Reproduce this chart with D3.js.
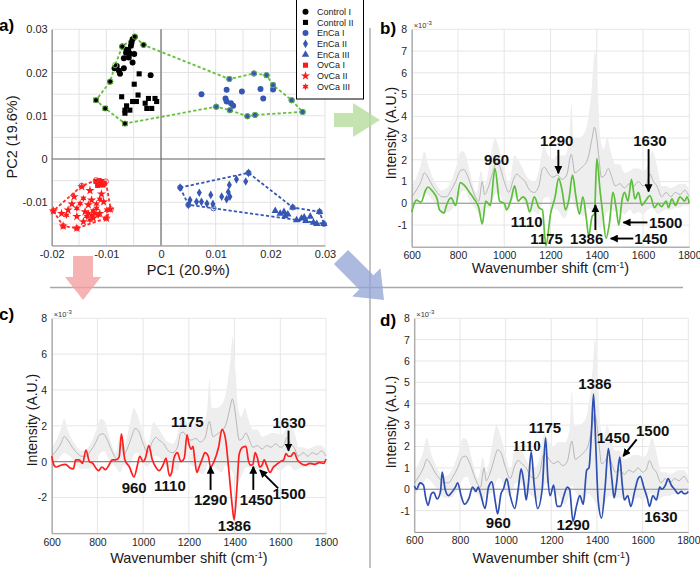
<!DOCTYPE html>
<html><head><meta charset="utf-8">
<script src="https://cdn.jsdelivr.net/npm/d3@7"></script>
<style>body{margin:0;background:#fff}svg{display:block;font-family:"Liberation Sans",Arial,sans-serif}</style>
</head><body><svg id="c" width="700" height="568"></svg>
<script>
// ---------- PCA scores (panel a) ----------
const controlI = [[-0.0048,0.0283],[-0.0032,0.0264],[-0.0052,0.0277],[-0.0054,0.0269],[-0.0071,0.026],[-0.006,0.0252],[-0.0064,0.0246],[-0.0057,0.0244],[-0.0049,0.0243],[-0.0068,0.0233],[-0.0059,0.0235],[-0.0052,0.0223],[-0.0081,0.0215],[-0.0077,0.0204],[-0.0068,0.021],[-0.0085,0.021],[-0.0075,0.0197],[-0.0093,0.0179],[-0.0019,0.0194],[-0.0063,0.0253],[-0.0055,0.0262]];
const controlII = [[-0.004,0.0197],[-0.0049,0.0173],[-0.0042,0.0148],[-0.0072,0.0144],[-0.0023,0.014],[-0.0011,0.014],[-0.0008,0.0133],[-0.0029,0.0129],[-0.0045,0.0133],[-0.0052,0.0133],[-0.0063,0.0123],[-0.0066,0.0113],[-0.0057,0.0113],[-0.0026,0.0117],[-0.0017,0.0117],[-0.0066,0.0106],[-0.0119,0.0136],[-0.0102,0.0117],[-0.0066,0.0082]];
const encaI = [[0.0074,0.015],[0.0125,0.0185],[0.012,0.016],[0.0148,0.0156],[0.017,0.0198],[0.0193,0.0194],[0.0182,0.0162],[0.0205,0.0171],[0.0205,0.0161],[0.0187,0.014],[0.0239,0.0136],[0.0259,0.0109],[0.0172,0.0102],[0.0158,0.0099],[0.0126,0.0113],[0.0101,0.0121],[0.0118,0.014],[0.012,0.0133],[0.0128,0.0129],[0.0132,0.0123]];
const encaII = [[0.0035,-0.0066],[0.0053,-0.0095],[0.005,-0.0106],[0.007,-0.0078],[0.0065,-0.0099],[0.0074,-0.0099],[0.0084,-0.0103],[0.0095,-0.0104],[0.0091,-0.0083],[0.0111,-0.0087],[0.012,-0.0093],[0.0126,-0.0087],[0.0123,-0.0076],[0.0125,-0.006],[0.0138,-0.0047],[0.0155,-0.0052],[0.016,-0.0032]];
const encaIII = [[0.0209,-0.012],[0.0218,-0.0126],[0.0225,-0.0122],[0.0227,-0.0132],[0.0241,-0.0112],[0.0248,-0.0141],[0.0257,-0.0137],[0.0265,-0.0143],[0.0273,-0.0133],[0.0279,-0.0147],[0.029,-0.0122],[0.0298,-0.015],[0.0285,-0.015],[0.0232,-0.0128],[0.0262,-0.0135]];
const ovcaI = [[-0.0119,-0.0052],[-0.0114,-0.0055],[-0.0109,-0.0052],[-0.0104,-0.0056],[-0.0116,-0.0061],[-0.011,-0.0059],[-0.0106,-0.006],[-0.0113,-0.005]];
const ovcaII = [[-0.0145,-0.0064],[-0.013,-0.0073],[-0.0109,-0.0081],[-0.0159,-0.0087],[-0.0127,-0.0095],[-0.0163,-0.0104],[-0.0133,-0.0106],[-0.0105,-0.0099],[-0.017,-0.0118],[-0.0139,-0.0122],[-0.0112,-0.0126],[-0.0093,-0.0116],[-0.0182,-0.0126],[-0.0154,-0.0133],[-0.0124,-0.0137],[-0.01,-0.0137],[-0.0179,-0.0155],[-0.0154,-0.016],[-0.0197,-0.012],[-0.0142,-0.0145]];
const ovcaIII = [[-0.0142,-0.0091],[-0.0112,-0.0093],[-0.0148,-0.0103],[-0.0118,-0.0104],[-0.0154,-0.0114],[-0.0124,-0.012],[-0.0133,-0.0126],[-0.0121,-0.0126],[-0.0118,-0.0114],[-0.0127,-0.013],[-0.0115,-0.013],[-0.013,-0.0141],[-0.0136,-0.0133],[-0.0173,-0.013],[-0.0099,-0.0118]];
const hullControlEnCaI = [[-0.0048,0.0283],[-0.0032,0.0264],[0.0125,0.0185],[0.017,0.0198],[0.0193,0.0194],[0.0205,0.0171],[0.0239,0.0136],[0.0259,0.0109],[0.0172,0.0102],[0.0158,0.0099],[0.0126,0.0113],[0.0101,0.0121],[-0.0066,0.0082],[-0.0102,0.0117],[-0.0119,0.0136],[-0.0093,0.0179],[-0.0084,0.0217],[-0.0071,0.026]];
const hullEnCa = [[0.0035,-0.0066],[0.016,-0.0032],[0.0241,-0.0112],[0.029,-0.0122],[0.0298,-0.015],[0.0096,-0.0114],[0.005,-0.0106]];
const hullOvCa = [[-0.0119,-0.0049],[-0.0101,-0.0052],[-0.0092,-0.0116],[-0.01,-0.0137],[-0.0154,-0.016],[-0.0179,-0.0155],[-0.0197,-0.012],[-0.0145,-0.0062]];
const legendNames = ["Control I","Control II","EnCa I","EnCa II","EnCa III","OvCa I","OvCa II","OvCa III"];
const pcXTicks = [-0.02,-0.01,0,0.01,0.02,0.03];
const pcYTicks = [-0.01,0,0.01,0.02,0.03];

// ---------- spectra (x 1e-3) ----------
const bandWn = [600,620,640,655,670,700,730,760,790,815,830,850,880,900,915,940,960,975,1000,1020,1045,1060,1080,1100,1130,1150,1170,1190,1210,1230,1260,1280,1290,1300,1320,1345,1360,1380,1392,1405,1415,1430,1445,1460,1480,1500,1520,1545,1560,1580,1600,1620,1640,1665,1680,1700,1720,1740,1760,1780,1800];
const bandUpper = [0.8,1.2,1.8,2.4,1.8,1.0,0.6,0.8,1.6,2.4,2.3,1.5,0.5,1.5,0.8,2.0,3.0,2.6,1.6,0.9,2.2,2.0,1.6,1.2,1.0,1.5,2.6,2.2,2.0,2.2,2.2,2.8,4.6,3.0,3.0,3.2,3.7,5.5,7.0,5.0,3.0,2.5,3.0,2.4,1.8,1.8,1.4,1.5,1.6,1.6,1.5,1.7,2.4,1.5,0.8,0.8,0.7,0.8,0.9,0.9,0.6];
const bandLower = [-0.3,0.0,0.3,0.5,0.4,0.0,-0.4,-0.4,0.0,0.5,0.6,0.1,-0.3,-0.6,-0.2,-0.2,0.4,0.5,-0.1,-0.3,0.3,0.3,0.1,-0.2,-0.4,-0.5,0.2,0.3,-0.2,-0.3,-0.7,-0.2,0.2,0.0,-0.4,-0.6,-0.2,-0.4,-0.6,-1.0,-1.2,-0.8,-0.4,-0.3,-0.4,-0.4,-0.5,-0.3,-0.5,-0.4,-0.5,-0.3,-0.2,-0.5,-0.4,-0.3,-0.3,-0.2,-0.2,-0.1,-0.1];
const grayWn = [600,620,640,655,670,690,710,730,750,770,790,810,825,840,860,880,890,905,915,930,950,965,980,1000,1020,1040,1055,1070,1090,1110,1130,1150,1165,1175,1190,1210,1230,1250,1270,1290,1305,1320,1340,1360,1380,1390,1400,1410,1420,1435,1450,1465,1480,1500,1520,1540,1560,1580,1600,1615,1630,1645,1660,1680,1700,1720,1740,1760,1780,1800];
const grayVal = [0.3,0.6,1.0,1.4,1.2,0.8,0.5,0.3,0.3,0.6,1.0,1.5,1.55,1.3,0.7,0.2,0.1,1.0,0.4,0.7,1.4,1.85,1.7,1.0,0.5,1.1,1.35,1.2,1.0,0.6,0.5,0.8,1.6,1.65,1.4,1.2,1.3,1.1,1.3,2.25,1.4,1.5,1.7,2.0,3.0,3.5,3.0,2.0,1.2,1.3,1.6,1.2,0.8,0.9,0.7,0.9,0.8,1.0,0.8,0.9,1.35,1.0,0.8,0.3,0.5,0.3,0.5,0.4,0.6,0.3];
const greenWn = [600,620,640,660,670,690,710,720,740,750,770,790,810,830,850,870,890,905,920,940,960,980,1000,1010,1030,1045,1060,1080,1095,1110,1130,1150,1165,1180,1200,1220,1235,1250,1265,1280,1295,1310,1325,1340,1355,1365,1380,1390,1400,1415,1425,1440,1455,1470,1485,1495,1510,1520,1535,1550,1565,1580,1595,1610,1630,1650,1665,1680,1700,1710,1725,1740,1760,1780,1790,1800];
const greenVal = [-0.4,0.15,0.05,0.6,0.75,0.55,0.2,-0.3,-0.45,-0.1,0.25,-0.1,0.95,0.8,0.5,0.2,-0.2,-0.95,0.1,-0.1,1.6,0.1,0.0,-0.3,0.2,0.8,0.1,0.3,0.15,-0.4,0.3,-0.2,-0.3,-1.95,-0.5,0.3,1.15,0.6,-0.3,0.2,1.3,0.3,-0.5,0.3,-0.7,-1.5,-0.6,-0.5,2.05,0.5,-0.4,-1.6,-0.9,0.5,-0.3,-1.0,0.2,0.5,0.1,1.1,0.2,0.5,-0.1,0.1,0.35,-0.2,0.0,-0.15,0.1,-0.2,0.2,-0.1,0.3,0.1,0.3,0.0];
const redWn = [600,610,620,640,660,680,695,705,720,735,750,765,780,790,805,820,835,850,865,880,895,905,920,940,960,975,985,1000,1010,1025,1040,1055,1070,1090,1100,1115,1125,1135,1150,1165,1180,1192,1200,1210,1218,1225,1235,1245,1260,1270,1285,1295,1310,1330,1345,1360,1375,1390,1398,1410,1420,1435,1450,1460,1470,1480,1490,1500,1510,1520,1530,1540,1555,1570,1580,1600,1615,1625,1635,1645,1660,1675,1690,1710,1730,1750,1770,1790,1800];
const redVal = [0.3,-0.2,-0.3,-0.2,-0.15,-0.35,-0.4,0.1,0.1,-0.1,0.65,0.0,-0.1,-0.3,-0.5,-0.3,-0.45,-0.2,0.1,0.1,0.25,1.55,0.1,-0.3,-0.85,-0.2,0.3,0.0,0.2,0.9,0.1,-0.3,-0.5,-0.1,0.2,-0.8,-0.6,0.2,0.5,0.0,0.2,1.5,1.0,0.7,0.85,0.2,-0.6,-0.3,0.2,0.5,0.3,-0.3,0.0,0.8,1.8,1.3,-0.5,-2.5,-3.25,-1.5,0.4,0.8,0.85,0.1,-0.2,-0.15,0.5,0.2,-0.3,-0.2,0.1,-0.2,-0.6,-0.3,-0.2,0.0,0.1,0.45,0.3,0.3,0.5,0.1,-0.1,-0.2,-0.1,-0.15,-0.05,-0.1,0.15];
const blueWn = [600,610,625,640,650,660,675,685,700,715,722,735,750,760,780,790,805,820,840,855,870,880,890,910,925,940,955,965,980,990,1005,1020,1040,1055,1068,1080,1090,1100,1112,1125,1140,1160,1175,1185,1195,1210,1225,1240,1255,1270,1280,1295,1310,1325,1340,1355,1365,1375,1385,1395,1405,1420,1435,1450,1465,1475,1485,1500,1510,1520,1535,1548,1565,1580,1590,1605,1620,1630,1645,1660,1675,1685,1700,1712,1725,1740,1755,1770,1780,1790,1800];
const blueVal = [0.15,0.0,0.3,0.2,-0.4,-0.75,-0.2,-0.15,-0.45,-0.1,0.8,0.0,-0.3,-0.2,0.1,0.3,-0.3,-0.7,-0.4,0.1,-0.1,0.1,-0.2,-0.9,0.1,0.35,-0.6,-1.15,-0.2,0.0,0.5,-0.3,-0.9,0.0,0.95,0.3,-0.5,0.3,1.75,0.2,-0.9,0.0,2.4,0.5,-0.3,0.2,-0.8,-0.8,-0.3,0.1,0.0,-1.5,-0.8,-0.3,-0.7,0.9,1.0,2.5,4.45,2.0,-0.5,-1.35,0.0,1.9,0.5,-0.4,0.2,1.5,0.3,-0.5,-0.3,-0.8,-0.1,0.5,0.6,0.1,-0.4,-0.8,-0.3,-0.5,0.1,0.0,0.2,0.5,0.2,0.0,-0.2,-0.1,-0.2,-0.2,-0.1];
const wnTicks = [600,800,1000,1200,1400,1600,1800];

// annotations: [label, wavenumber, intensity(baseline)]
const annB = [["960",967,1.77],["1290",1227,2.62],["1630",1630,2.62],["1110",1097,-1.08],["1175",1183,-1.85],["1386",1356,-1.85],["1500",1698,-1.12],["1450",1634,-1.85]];
const arrB = [[1234,2.46,1234,1.38],[1624,2.49,1624,0.54],[1394,-1.23,1394,-0.08],[1619,-0.88,1515,-0.88],[1558,-1.62,1460,-1.62]];
const annC = [["960",961,-1.77],["1110",1117,-1.62],["1175",1193,1.95],["1290",1295,-2.42],["1386",1399,-3.85],["1450",1496,-2.42],["1500",1639,-2.1],["1630",1639,1.86]];
const arrC = [[1295,-1.58,1295,-0.28],[1482,-1.58,1482,-0.28],[1591,-1.49,1511,-0.47],[1636,1.73,1636,0.61]];
const annD = [["960",968,-1.83],["1110",1092,1.79],["1175",1172,2.61],["1290",1296,-1.89],["1386",1391,4.69],["1450",1472,2.17],["1500",1644,2.48],["1630",1680,-1.55]];
const arrD = [[1574,2.33,1515,1.55]];

const svg = d3.select("#c");
const defs = svg.append("defs");
defs.append("marker").attr("id","ah").attr("viewBox","0 0 10 10").attr("refX",9).attr("refY",5)
  .attr("markerWidth",4.2).attr("markerHeight",4.2).attr("markerUnits","strokeWidth").attr("orient","auto")
  .append("path").attr("d","M0,0L10,5L0,10z").attr("fill","#000");

const fmt = d => d===0 ? "0" : (d<0?"-":"") + Math.abs(d);

function bigArrow(x0,y0,x1,y1,sw,hw,hl,fill){
  const dx=x1-x0, dy=y1-y0, L=Math.hypot(dx,dy), ux=dx/L, uy=dy/L, px=-uy, py=ux;
  const bx=x1-ux*hl, by=y1-uy*hl;
  const pts=[[x0+px*sw/2,y0+py*sw/2],[bx+px*sw/2,by+py*sw/2],[bx+px*hw/2,by+py*hw/2],[x1,y1],[bx-px*hw/2,by-py*hw/2],[bx-px*sw/2,by-py*sw/2],[x0-px*sw/2,y0-py*sw/2]];
  return svg.append("path").attr("d","M"+pts.map(p=>p.join(",")).join("L")+"Z").attr("fill",fill);
}

// ---------- dividers ----------
svg.append("line").attr("x1",50).attr("x2",683).attr("y1",287.5).attr("y2",287.5).attr("stroke","#a9a9a9").attr("stroke-width",1.4);
svg.append("line").attr("x1",370).attr("x2",370).attr("y1",28).attr("y2",568).attr("stroke","#a9a9a9").attr("stroke-width",1.4);

// ---------- panel a ----------
const ax = d3.scaleLinear().domain([-0.02,0.03]).range([51.7,325]);
const ay = d3.scaleLinear().domain([-0.02,0.03]).range([245.5,29.3]);
const ga = svg.append("g");
const gridV = d3.range(-0.02,0.0301,0.005);
ga.selectAll(".gv").data(gridV).join("line").attr("x1",d=>ax(d)).attr("x2",d=>ax(d)).attr("y1",ay(0.03)).attr("y2",ay(-0.02)).attr("stroke","#e3e3e3");
ga.selectAll(".gh").data(gridV).join("line").attr("y1",d=>ay(d)).attr("y2",d=>ay(d)).attr("x1",ax(-0.02)).attr("x2",ax(0.03)).attr("stroke","#e3e3e3");
ga.append("line").attr("x1",ax(0)).attr("x2",ax(0)).attr("y1",ay(0.03)).attr("y2",ay(-0.02)).attr("stroke","#6e6e6e").attr("stroke-width",1.2);
ga.append("line").attr("y1",ay(0)).attr("y2",ay(0)).attr("x1",ax(-0.02)).attr("x2",ax(0.03)).attr("stroke","#6e6e6e").attr("stroke-width",1.2);
const axA = ga.append("g").attr("transform",`translate(0,${ay(-0.02)})`).call(d3.axisBottom(ax).tickValues(pcXTicks).tickFormat(fmt).tickSize(0).tickPadding(5));
const ayA = ga.append("g").attr("transform",`translate(${ax(-0.02)},0)`).call(d3.axisLeft(ay).tickValues(pcYTicks).tickFormat(fmt).tickSize(0).tickPadding(4));
[axA,ayA].forEach(g=>{g.select(".domain").attr("stroke","#8a8a8a").attr("stroke-width",1.2);g.selectAll("text").attr("font-size",11).attr("fill","#262626").attr("font-family","Liberation Sans, Arial");});

const hexagram = {draw(ctx,size){const R=Math.sqrt(size)*0.75, r=R*0.5;for(let i=0;i<12;i++){const a=i*Math.PI/6-Math.PI/2, rr=i%2?r:R;const x=rr*Math.cos(a), y=rr*Math.sin(a);i?ctx.lineTo(x,y):ctx.moveTo(x,y);}ctx.closePath();}};
const groups = [
  {d:controlI, t:d3.symbolCircle, s:28, c:"#000"},
  {d:controlII, t:d3.symbolSquare, s:26, c:"#000"},
  {d:encaI, t:d3.symbolCircle, s:28, c:"#3556b3"},
  {d:encaII, t:d3.symbolDiamond, s:22, c:"#3556b3"},
  {d:encaIII, t:d3.symbolTriangle, s:24, c:"#3556b3"},
  {d:ovcaI, t:d3.symbolSquare, s:26, c:"#ff1a1a"},
  {d:ovcaII, t:d3.symbolStar, s:26, c:"#ff1a1a"},
  {d:ovcaIII, t:hexagram, s:24, c:"#ff1a1a"}
];
const hulls = [{d:hullControlEnCaI,c:"#66c03e"},{d:hullEnCa,c:"#3556b3"},{d:hullOvCa,c:"#ff2a2a"}];
hulls.forEach(h=>{
  ga.append("path").attr("d", d3.line().x(p=>ax(p[0])).y(p=>ay(p[1])).curve(d3.curveLinearClosed)(h.d))
    .attr("fill","none").attr("stroke",h.c).attr("stroke-width",1.8).attr("stroke-dasharray","3.2,2.2");
});
groups.forEach(g=>{
  ga.selectAll(null).data(g.d).join("path").attr("transform",p=>`translate(${ax(p[0])},${ay(p[1])})`)
    .attr("d",d3.symbol().type(g.t).size(g.s)).attr("fill",g.c);
});
hulls.forEach(h=>{
  ga.selectAll(null).data(h.d).join("circle").attr("cx",p=>ax(p[0])).attr("cy",p=>ay(p[1])).attr("r",2.6)
    .attr("fill","none").attr("stroke",h.c).attr("stroke-width",0.9);
});
ga.append("text").attr("x",ax(0.005)).attr("y",275).attr("text-anchor","middle").attr("font-size",14.5).attr("fill","#1a1a1a").text("PC1 (20.9%)");
ga.append("text").attr("transform","translate(17,137) rotate(-90)").attr("text-anchor","middle").attr("font-size",14.5).attr("fill","#1a1a1a").text("PC2 (19.6%)");
ga.append("text").attr("x",-1).attr("y",31).attr("font-size",17).attr("font-weight","bold").text("a)");

// legend
const lg = svg.append("g");
lg.append("rect").attr("x",296.5).attr("y",-0.5).attr("width",67).attr("height",99.5).attr("fill","#fff").attr("stroke","#000").attr("stroke-width",1);
legendNames.forEach((n,i)=>{
  const y = 11.7 + i*10.7, g = groups[i];
  lg.append("path").attr("transform",`translate(305.5,${y})`).attr("d",d3.symbol().type(g.t).size(g.s)).attr("fill",g.c);
  lg.append("text").attr("x",317).attr("y",y+3.2).attr("font-size",9).attr("fill","#222").text(n);
});

// ---------- spectra panels ----------
function spectrum(o){
  const x = d3.scaleLinear().domain([600,1800]).range([o.x0,o.x1]);
  const y = d3.scaleLinear().domain(o.ydom).range([o.yb,o.yt]);
  const g = svg.append("g");
  g.selectAll(null).data(wnTicks).join("line").attr("x1",d=>x(d)).attr("x2",d=>x(d)).attr("y1",o.yt).attr("y2",o.yb).attr("stroke","#e6e6e6");
  g.selectAll(null).data(o.grid).join("line").attr("y1",d=>y(d)).attr("y2",d=>y(d)).attr("x1",o.x0).attr("x2",o.x1).attr("stroke","#e6e6e6");
  const band = bandWn.map((w,i)=>[w,bandLower[i],bandUpper[i]]);
  g.append("path").attr("d",d3.area().x(d=>x(d[0])).y0(d=>y(d[1])).y1(d=>y(d[2])).curve(d3.curveMonotoneX)(band)).attr("fill","#eeeeee");
  g.append("line").attr("x1",o.x0).attr("x2",o.x1).attr("y1",y(0)).attr("y2",y(0)).attr("stroke","#8c8c8c").attr("stroke-width",1.1);
  g.append("path").attr("d",d3.line().x(d=>x(d[0])).y(d=>y(d[1])).curve(d3.curveMonotoneX)(d3.zip(grayWn,grayVal))).attr("fill","none").attr("stroke","#a8a8a8").attr("stroke-width",0.8);
  const xa = g.append("g").attr("transform",`translate(0,${o.yb})`).call(d3.axisBottom(x).tickValues(wnTicks).tickFormat(d3.format("d")).tickSize(0).tickPadding(5));
  const ya = g.append("g").attr("transform",`translate(${o.x0},0)`).call(d3.axisLeft(y).tickValues(o.ticks).tickFormat(fmt).tickSize(0).tickPadding(4.5));
  [xa,ya].forEach(a=>{a.select(".domain").attr("stroke","#9a9a9a").attr("stroke-width",1.1);a.selectAll("text").attr("font-size",10.5).attr("fill","#262626").attr("font-family","Liberation Sans, Arial");});
  g.append("path").attr("d",d3.line().x(d=>x(d[0])).y(d=>y(d[1])).curve(d3.curveMonotoneX)(d3.zip(o.wn,o.val))).attr("fill","none").attr("stroke",o.color).attr("stroke-width",1.7).attr("stroke-linejoin","round");
  const e = g.append("text").attr("x",o.x0+2).attr("y",o.yt-1).attr("font-size",7.5).attr("fill","#333");
  e.append("tspan").text("×10");
  e.append("tspan").attr("dy",-3).attr("font-size",6).text("-3");
  const xl = g.append("text").attr("x",(o.x0+o.x1)/2).attr("y",o.xly).attr("text-anchor","middle").attr("font-size",14.5).attr("fill","#1a1a1a");
  xl.append("tspan").text("Wavenumber shift (cm");
  xl.append("tspan").attr("dy",-5).attr("font-size",9).text("-1");
  xl.append("tspan").attr("dy",5).text(")");
  g.append("text").attr("transform",`translate(${o.ylx},${o.yly}) rotate(-90)`).attr("text-anchor","middle").attr("font-size",14).attr("fill","#1a1a1a").text("Intensity (A.U.)");
  g.append("text").attr("x",o.lx).attr("y",o.ly).attr("font-size",17).attr("font-weight","bold").text(o.letter);
  o.ann.forEach(a=>{
    g.append("text").attr("x",x(a[1])).attr("y",y(a[2])).attr("text-anchor","middle").attr("font-size",15).attr("font-weight","bold")
      .attr("font-family", (o.serif && a[0]===o.serif) ? "Liberation Serif, Times New Roman" : "Liberation Sans, Arial").attr("fill","#111").text(a[0]);
  });
  o.arr.forEach(a=>{
    g.append("line").attr("x1",x(a[0])).attr("y1",y(a[1])).attr("x2",x(a[2])).attr("y2",y(a[3])).attr("stroke","#000").attr("stroke-width",1.9).attr("marker-end","url(#ah)");
  });
}
spectrum({x0:411.7,x1:689.3,yt:29.3,yb:246.8,ydom:[-2,8],ticks:d3.range(-1,9),grid:d3.range(-2,9),wn:greenWn,val:greenVal,color:"#5cbf38",ann:annB,arr:arrB,letter:"b)",lx:380,ly:34,xly:273,ylx:396,yly:133});
spectrum({x0:51.7,x1:326,yt:318.3,yb:533.3,ydom:[-4,8],ticks:[-2,0,2,4,6,8],grid:[-4,-2,0,2,4,6,8],wn:redWn,val:redVal,color:"#ff1f1f",ann:annC,arr:arrC,letter:"c)",lx:-1,ly:320,xly:563,ylx:37,yly:420});
spectrum({x0:414.3,x1:688.3,yt:318.3,yb:532,ydom:[-2,8],ticks:d3.range(-1,9),grid:d3.range(-2,9),wn:blueWn,val:blueVal,color:"#2f4fb0",ann:annD,arr:arrD,letter:"d)",lx:380,ly:326,xly:563,ylx:396,yly:422,serif:"1110"});

bigArrow(334,120,380,120,14,34,27,"rgba(184,220,160,0.82)");
bigArrow(83,256,83,300,20,36,23,"rgba(244,160,160,0.8)");
bigArrow(341,257,384,300,20,40,25,"rgba(145,163,212,0.75)");
</script></body></html>
